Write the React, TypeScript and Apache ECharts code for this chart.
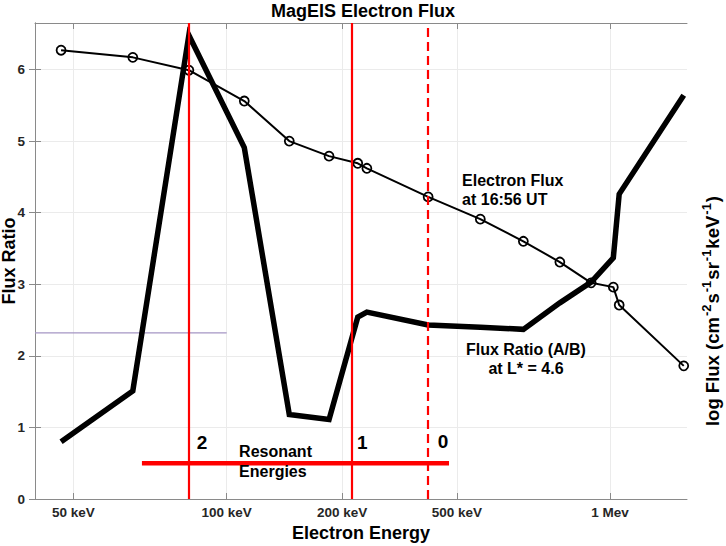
import React, { useEffect, useRef } from "react";
import * as echarts from "echarts";

// x axis is the figure's own (non-uniform) energy axis, expressed as % of its width
const tickPositions = [5.9, 29.4, 47.1, 64.7, 88.2];
const tickLabels = ["50 keV", "100 keV", "200 keV", "500 keV", "1 Mev"];
const yTicks = [0, 1, 2, 3, 4, 5, 6];

const channelPos = [4.0, 15.0, 23.6, 32.1, 39.0, 45.1, 49.5, 50.9, 60.3, 68.3, 74.9, 80.5, 85.3, 88.7, 89.6, 99.5];
const logFlux = [6.27, 6.17, 5.99, 5.56, 5.0, 4.79, 4.69, 4.62, 4.22, 3.91, 3.6, 3.31, 3.02, 2.96, 2.71, 1.86];
const fluxRatio = [0.8, 1.51, 6.48, 4.91, 1.18, 1.11, 2.54, 2.61, 2.43, 2.4, 2.37, 2.74, 3.03, 3.37, 4.26, 5.64];

const resonantSolid = [23.6, 48.6];
const resonantDashed = [60.3];
const resonantBarX = [16.4, 63.5];
const resonantBarY = 0.5;

const refLineX = [0, 29.4];
const refLineY = 2.32;

const orderLabels = ["2", "1", "0"];
const orderLabelX = [25.6, 50.2, 62.6];
const orderLabelY = [0.785, 0.785, 0.8];

const Y_MAX = 6.65;
const FONT = "'Liberation Sans', Arial, Helvetica, sans-serif";

export default function App() {
  const ref = useRef<HTMLDivElement>(null);

  useEffect(() => {
    if (!ref.current) return;
    const chart = echarts.init(ref.current, undefined, { renderer: "svg" });

    const axisGray = "#8a8a8a";
    const gridGray = "#ebebeb";
    const txt = { fontFamily: FONT, fontWeight: "bold", color: "#000", textBorderWidth: 0, opacity: 1 };

    const notes: any[] = [
      ...orderLabels.map((t, i) => ({
        value: [orderLabelX[i], orderLabelY[i]],
        label: { ...txt, formatter: t, fontSize: 19, position: "inside" },
      })),
      {
        value: [31.3, 0.52],
        label: { ...txt, formatter: "Resonant\nEnergies", position: "right", distance: 0, align: "left", fontSize: 16, lineHeight: 20 },
      },
      {
        value: [65.5, 4.32],
        label: { ...txt, formatter: "Electron Flux\nat 16:56 UT", position: "right", distance: 0, align: "left", fontSize: 16, lineHeight: 19 },
      },
      {
        value: [75.3, 1.95],
        label: { ...txt, formatter: "Flux Ratio (A/B)\nat L* = 4.6", position: "inside", align: "center", fontSize: 16, lineHeight: 19 },
      },
    ];

    const option: any = {
      animation: false,
      backgroundColor: "#ffffff",
      title: {
        text: "MagEIS Electron Flux",
        left: "center",
        top: -3,
        textStyle: { fontFamily: FONT, fontWeight: "bold", fontSize: 18, color: "#000" },
      },
      grid: { left: 35, right: 39, top: 23, bottom: 47, containLabel: false, outerBoundsMode: "none" },
      xAxis: [
        {
          type: "value",
          min: 0,
          max: 100,
          position: "bottom",
          name: "Electron Energy",
          nameLocation: "middle",
          nameGap: 23,
          nameMoveOverlap: false,
          nameTextStyle: { fontFamily: FONT, fontWeight: "bold", fontSize: 18, color: "#000", lineHeight: 22 },
          axisLine: { onZero: false, lineStyle: { color: axisGray, width: 1 } },
          axisTick: { inside: true, length: 6, customValues: tickPositions, lineStyle: { color: axisGray } },
          axisLabel: {
            customValues: tickPositions,
            margin: 6,
            fontFamily: FONT,
            fontWeight: "bold",
            fontSize: 13.5,
            color: "#262626",
            formatter: (v: number) => {
              let best = 0;
              tickPositions.forEach((p, i) => {
                if (Math.abs(p - v) < Math.abs(tickPositions[best] - v)) best = i;
              });
              return tickLabels[best];
            },
          },
          splitLine: { show: true, lineStyle: { color: gridGray, width: 1 } },
        },
        {
          type: "value",
          min: 0,
          max: 100,
          position: "top",
          axisLine: { show: true, onZero: false, lineStyle: { color: axisGray, width: 1 } },
          axisTick: { show: true, inside: true, length: 6, customValues: tickPositions, lineStyle: { color: axisGray } },
          axisLabel: { show: false },
          splitLine: { show: false },
        },
      ],
      yAxis: [
        {
          type: "value",
          min: 0,
          max: Y_MAX,
          position: "left",
          name: "Flux Ratio",
          nameLocation: "middle",
          nameRotate: 90,
          nameGap: 15,
          nameMoveOverlap: false,
          nameTextStyle: { fontFamily: FONT, fontWeight: "bold", fontSize: 18, color: "#000", lineHeight: 22 },
          axisLine: { show: true, lineStyle: { color: axisGray, width: 1 } },
          axisTick: { show: true, inside: true, length: 6, customValues: yTicks, lineStyle: { color: axisGray } },
          axisLabel: {
            customValues: yTicks,
            margin: 10,
            fontFamily: FONT,
            fontWeight: "bold",
            fontSize: 13.5,
            color: "#262626",
          },
          splitLine: { show: true, lineStyle: { color: gridGray, width: 1 } },
        },
        {
          type: "value",
          min: 0,
          max: Y_MAX,
          position: "right",
          name:
            "{b|log Flux (cm}{s|-2}{b|s}{s|-1}{b|sr}{s|-1}{b|keV}{s|-1}{b|)}",
          nameLocation: "middle",
          nameRotate: 90,
          nameGap: 13,
          nameMoveOverlap: false,
          nameTextStyle: {
            fontFamily: FONT,
            fontWeight: "bold",
            fontSize: 18,
            color: "#000",
            padding: [0, 100, 0, 0],
            rich: {
              b: { fontFamily: FONT, fontWeight: "bold", fontSize: 18.5, color: "#000", lineHeight: 24, verticalAlign: "middle" },
              s: { fontFamily: FONT, fontWeight: "bold", fontSize: 13, color: "#000", lineHeight: 12, verticalAlign: "top", padding: [0, 1, 0, 1] },
            },
          },
          axisLine: { show: true, lineStyle: { color: axisGray, width: 1 } },
          axisTick: { show: true, inside: true, length: 6, customValues: yTicks, lineStyle: { color: axisGray } },
          axisLabel: { show: false },
          splitLine: { show: false },
        },
      ],
      series: [
        {
          name: "Reference",
          type: "line",
          data: refLineX.map((x) => [x, refLineY]),
          showSymbol: false,
          lineStyle: { color: "#a596c4", width: 1.2 },
          z: 1,
          silent: true,
        },
        {
          name: "Flux Ratio (A/B)",
          type: "line",
          data: channelPos.map((x, i) => [x, fluxRatio[i]]),
          showSymbol: false,
          lineStyle: { color: "#000", width: 5.5, join: "miter", cap: "butt" },
          z: 3,
        },
        {
          name: "Electron Flux",
          type: "line",
          data: channelPos.map((x, i) => [x, logFlux[i]]),
          symbol: "circle",
          symbolSize: 9,
          showSymbol: true,
          lineStyle: { color: "#000", width: 2 },
          itemStyle: { color: "rgba(0,0,0,0)", borderColor: "#000", borderWidth: 1.8 },
          z: 4,
        },
        {
          name: "Resonant solid",
          type: "line",
          data: [],
          markLine: {
            silent: true,
            symbol: ["none", "none"],
            label: { show: false },
            lineStyle: { color: "#ff0000", width: 2.2, type: "solid" },
            data: resonantSolid.map((x) => ({ xAxis: x })),
          },
          z: 5,
        },
        {
          name: "Resonant dashed",
          type: "line",
          data: [],
          markLine: {
            silent: true,
            symbol: ["none", "none"],
            label: { show: false },
            lineStyle: { color: "#ff0000", width: 2.2, type: [9, 5] },
            data: resonantDashed.map((x) => ({ xAxis: x })),
          },
          z: 5,
        },
        {
          name: "Resonant Energies",
          type: "line",
          data: resonantBarX.map((x) => [x, resonantBarY]),
          showSymbol: false,
          lineStyle: { color: "#ff0000", width: 4.5, cap: "butt" },
          z: 6,
        },
        {
          name: "Notes",
          type: "scatter",
          data: notes,
          symbolSize: 0,
          silent: true,
          itemStyle: { opacity: 1 },
          label: { show: true, ...txt },
          z: 7,
        },
      ],
    };

    chart.setOption(option);
    return () => chart.dispose();
  }, []);

  return (
    <div
      ref={ref}
      style={{ position: "fixed", left: 0, top: 0, width: 726, height: 546, background: "#fff" }}
    />
  );
}
